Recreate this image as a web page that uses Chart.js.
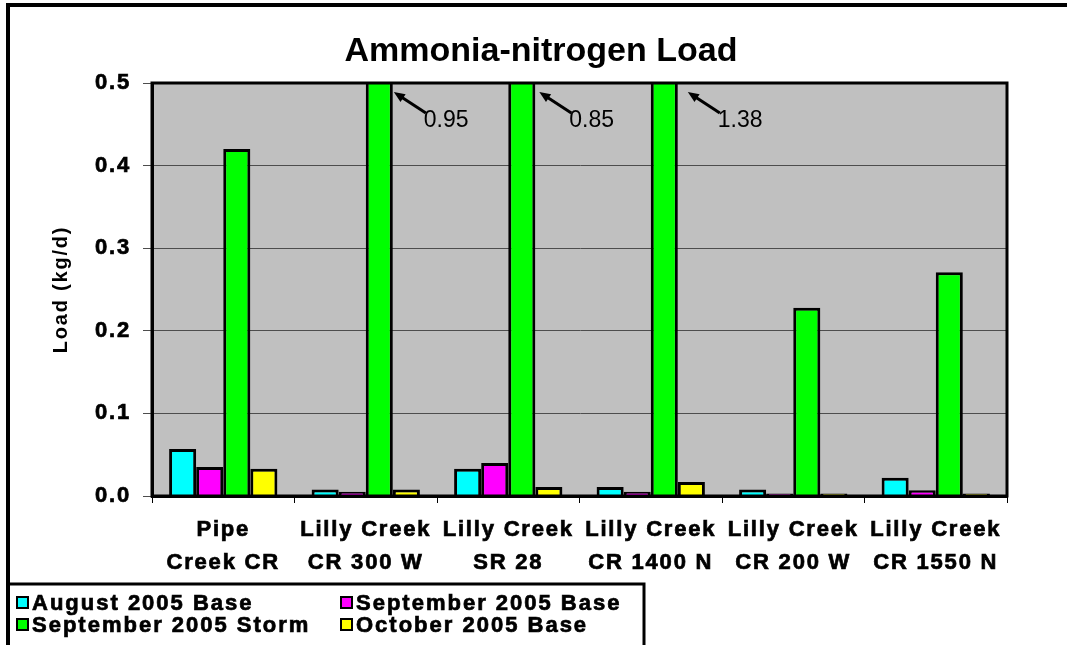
<!DOCTYPE html>
<html>
<head>
<meta charset="utf-8">
<title>Ammonia-nitrogen Load</title>
<script src="https://cdn.jsdelivr.net/npm/chart.js@4/dist/chart.umd.min.js"></script>
<style>
  html, body { margin: 0; padding: 0; background: #fff; }
  canvas { display: block; }
</style>
</head>
<body>
<canvas id="chart" width="1067" height="645"></canvas>
<script>
// dati (kg/d)
const categorie = [
  ['Pipe', 'Creek CR'],
  ['Lilly Creek', 'CR 300 W'],
  ['Lilly Creek', 'SR 28'],
  ['Lilly Creek', 'CR 1400 N'],
  ['Lilly Creek', 'CR 200 W'],
  ['Lilly Creek', 'CR 1550 N']
];
const serieNomi = ['August 2005 Base', 'September 2005 Base', 'September 2005 Storm', 'October 2005 Base'];
const agostoBase = [0.057, 0.008, 0.033, 0.011, 0.008, 0.022];
const settembreBase = [0.035, 0.005, 0.040, 0.005, 0.003, 0.007];
const settembreStorm = [0.42, 0.95, 0.85, 1.38, 0.228, 0.271];
const ottobreBase = [0.033, 0.008, 0.011, 0.017, 0.003, 0.003];
const yTicks = [0, 0.1, 0.2, 0.3, 0.4, 0.5];

const colori = ['#00ffff', '#ff00ff', '#00ff00', '#ffff00'];
const FONT = '"Liberation Sans", Arial, sans-serif';
const arrowExtra = [1, 4, 10]; // spostamento punta freccia per le barre tagliate

Chart.defaults.font.family = FONT;
Chart.defaults.color = '#000';

const ctx = document.querySelector('#chart');

// sfondo, cornici, frecce, titolo e legenda
const decorazioni = {
  id: 'decorazioni',
  beforeLayout(chart) { chart.ctx.letterSpacing = '1.8px'; },
  beforeDraw(chart) {
    const c = chart.ctx, a = chart.chartArea;
    c.letterSpacing = '1.8px';
    c.save();
    c.fillStyle = '#c0c0c0';
    c.fillRect(a.left, a.top, a.right - a.left, a.bottom - a.top);
    c.restore();
  },
  afterDatasetsDraw(chart) {
    const c = chart.ctx, a = chart.chartArea;
    c.save();
    c.strokeStyle = '#000';
    c.lineWidth = 3;
    c.strokeRect(a.left, a.top, a.right - a.left, a.bottom - a.top);

    // frecce con il valore delle barre fuori scala
    const max = chart.scales.y.max;
    const meta = chart.getDatasetMeta(2);
    let k = 0;
    c.letterSpacing = '0px';
    settembreStorm.forEach((v, i) => {
      if (v <= max) return;
      const bar = meta.data[i];
      const tx = bar.x + bar.width / 2 + (arrowExtra[k] || 0);
      const ty = a.top + 9;
      const ex = tx + 32, ey = ty + 21;
      c.strokeStyle = '#000';
      c.lineWidth = 3;
      c.beginPath();
      c.moveTo(ex, ey);
      c.lineTo(tx + 6, ty + 4);
      c.stroke();
      const ang = Math.atan2(ey - ty, ex - tx);
      c.fillStyle = '#000';
      c.beginPath();
      c.moveTo(tx, ty);
      c.lineTo(tx + 12 * Math.cos(ang - 0.4), ty + 12 * Math.sin(ang - 0.4));
      c.lineTo(tx + 12 * Math.cos(ang + 0.4), ty + 12 * Math.sin(ang + 0.4));
      c.closePath();
      c.fill();
      c.font = '23px ' + FONT;
      c.textAlign = 'left';
      c.textBaseline = 'alphabetic';
      c.fillText(v.toFixed(2), tx + 30, a.top + 44);
      k++;
    });
    c.restore();
  },
  afterDraw(chart) {
    const c = chart.ctx;
    c.save();
    // cornice esterna
    c.strokeStyle = '#000';
    c.lineWidth = 4;
    c.beginPath();
    c.moveTo(8, 650);
    c.lineTo(8, 5);
    c.lineTo(1070, 5);
    c.stroke();

    // titolo
    c.letterSpacing = '0px';
    c.fillStyle = '#000';
    c.font = 'bold 34px ' + FONT;
    c.textAlign = 'center';
    c.textBaseline = 'middle';
    c.fillText('Ammonia-nitrogen Load', 541, 52);

    // legenda
    c.lineWidth = 3;
    c.strokeRect(8, 584, 636, 70);
    c.font = 'bold 22px ' + FONT;
    c.letterSpacing = '2px';
    c.textAlign = 'left';
    const pos = [[17, 603], [341, 603], [17, 625], [341, 625]];
    serieNomi.forEach((nome, i) => {
      const [x, y] = pos[i];
      c.fillStyle = colori[i];
      c.fillRect(x, y - 6, 11, 11);
      c.lineWidth = 2;
      c.strokeStyle = '#000';
      c.strokeRect(x, y - 6, 11, 11);
      c.fillStyle = '#000';
      c.lineWidth = 0.7;
      c.strokeText(nome, x + 15, y + 1);
      c.fillText(nome, x + 15, y + 1);
    });
    c.restore();
  }
};

const chart = new Chart(ctx, {
  type: 'bar',
  data: {
    labels: categorie,
    datasets: serieNomi.map((nome, i) => ({
      label: nome,
      data: [agostoBase, settembreBase, settembreStorm, ottobreBase][i],
      backgroundColor: colori[i],
      borderColor: '#000',
      borderWidth: 3,
      categoryPercentage: 0.76,
      barPercentage: 1
    }))
  },
  options: {
    responsive: false,
    devicePixelRatio: 1,
    animation: false,
    layout: { padding: { top: 83, right: 60, left: 0, bottom: 0 } },
    plugins: {
      legend: { display: false },
      title: { display: false },
      tooltip: { enabled: false }
    },
    scales: {
      x: {
        afterFit(s) { s.height = 149; },
        grid: { offset: true, drawOnChartArea: false, tickLength: 7, tickColor: '#000', tickWidth: 1 },
        border: { color: '#000', width: 3 },
        ticks: {
          font: { size: 22, weight: 'bold', lineHeight: 1.5 },
          padding: 10,
          maxRotation: 0,
          autoSkip: false,
          textStrokeColor: '#000',
          textStrokeWidth: 0.7
        }
      },
      y: {
        min: 0,
        max: 0.5,
        afterFit(s) { s.width = 152; },
        afterBuildTicks(s) { s.ticks = yTicks.map(v => ({ value: v })); },
        grid: { color: '#4d4d4d', lineWidth: 1, tickLength: 9, tickColor: '#4d4d4d' },
        border: { color: '#000', width: 3 },
        ticks: {
          font: { size: 22, weight: 'bold' },
          padding: 12,
          textStrokeColor: '#000',
          textStrokeWidth: 0.7,
          callback: v => v.toFixed(1)
        },
        title: {
          display: true,
          text: 'Load (kg/d)',
          font: { size: 20, weight: 'bold' },
          padding: { top: 49, bottom: 0 }
        }
      }
    }
  },
  plugins: [decorazioni]
});
</script>
</body>
</html>
